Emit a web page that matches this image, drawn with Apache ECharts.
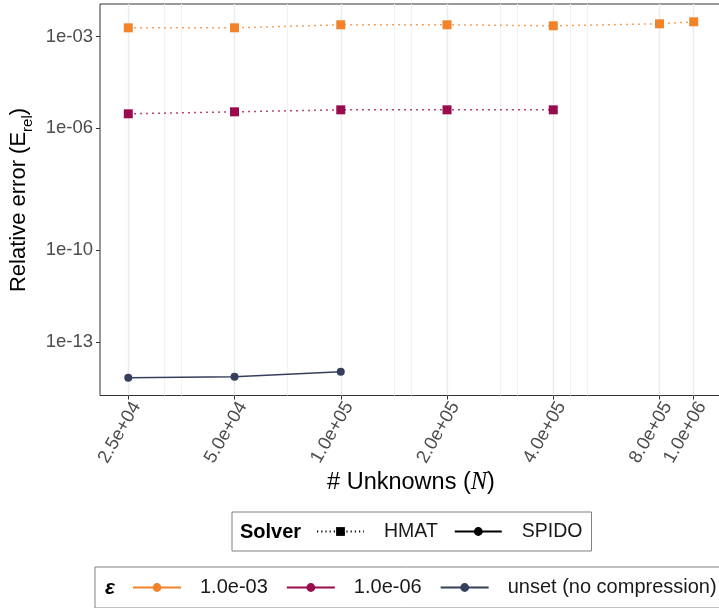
<!DOCTYPE html>
<html><head><meta charset="utf-8">
<script src="https://cdn.jsdelivr.net/npm/echarts@6/dist/echarts.min.js"></script>
<style>html,body{margin:0;padding:0;background:#fff}#c{width:719px;height:608px}</style>
</head><body><div id="c"></div>
<script>
// ---- data ----
const xTickValues = [25000, 50000, 100000, 200000, 400000, 800000, 1000000];
const xTickLabels = ['2.5e+04', '5.0e+04', '1.0e+05', '2.0e+05', '4.0e+05', '8.0e+05', '1.0e+06'];
const xMinorBreaks = [31623, 35355, 70711, 141421, 158489, 282843, 316228, 445600, 500000];
const yTickValues = [1e-13, 1e-10, 1e-6, 1e-3];
const yTickLabels = ['1e-13', '1e-10', '1e-06', '1e-03'];
const yMinorBreaks = [3.162e-15, 3.162e-12, 1e-8, 3.162e-5];

const epsNames = ['1.0e-03', '1.0e-06', 'unset (no compression)'];
const solverNames = ['HMAT', 'SPIDO'];

const nHmat1e3 = [25000, 50000, 100000, 200000, 400000, 800000, 1000000];
const errHmat1e3 = [1.95e-3, 1.95e-3, 2.45e-3, 2.45e-3, 2.27e-3, 2.64e-3, 3.07e-3];
const nHmat1e6 = [25000, 50000, 100000, 200000, 400000];
const errHmat1e6 = [2.96e-6, 3.44e-6, 4.0e-6, 4.0e-6, 4.0e-6];
const nSpido = [25000, 50000, 100000];
const errSpido = [6.64e-15, 7.16e-15, 1.045e-14];

// ---- styling ----
const FONT = '"Liberation Sans", Arial, Helvetica, sans-serif';
const colEps = ['#F1832A', '#9A0A4E', '#353F5B'];
const dotted = [1.5, 4.5];

function zip(xs, ys) { return xs.map((x, i) => [x, ys[i]]); }
function expandLog(vals) {
  const l = vals.map(Math.log10);
  const mn = Math.min(...l), mx = Math.max(...l), r = mx - mn;
  return [Math.pow(10, mn - 0.05 * r), Math.pow(10, mx + 0.05 * r)];
}
const xr = expandLog([...nHmat1e3, ...nHmat1e6, ...nSpido]);
const yr = expandLog([...errHmat1e3, ...errHmat1e6, ...errSpido]);

function lookup(vals, labels, v) {
  for (let i = 0; i < vals.length; i++) {
    if (Math.abs(Math.log10(v) - Math.log10(vals[i])) < 1e-6) return labels[i];
  }
  return '';
}
function mark(c) { return { color: c, borderWidth: 0, borderColor: c, borderType: 'solid', opacity: 1 }; }

const gridLines = [];
xTickValues.forEach(v => gridLines.push({ xAxis: v, lineStyle: { color: '#EBEBEB', width: 1.4, type: 'solid' } }));
xMinorBreaks.forEach(v => gridLines.push({ xAxis: v, lineStyle: { color: '#F2F2F2', width: 1, type: 'solid' } }));
yTickValues.forEach(v => gridLines.push({ yAxis: v, lineStyle: { color: '#EBEBEB', width: 1.4, type: 'solid' } }));
yMinorBreaks.forEach(v => gridLines.push({ yAxis: v, lineStyle: { color: '#F2F2F2', width: 1, type: 'solid' } }));

const chart = echarts.init(document.getElementById('c'), null, { renderer: 'canvas' });
chart.setOption({
  animation: false,
  backgroundColor: '#ffffff',
  grid: {
    left: 100, right: -3, top: 4, bottom: 212.5,
    show: true, borderColor: '#333333', borderWidth: 1, backgroundColor: 'transparent',
    containLabel: false, outerBoundsMode: 'none'
  },
  xAxis: {
    type: 'log', logBase: 10, min: xr[0], max: xr[1],
    axisLine: { show: false },
    splitLine: { show: false }, minorTick: { show: false }, minorSplitLine: { show: false },
    axisTick: { show: true, length: 4, lineStyle: { color: '#333333', width: 1 }, customValues: xTickValues },
    axisLabel: {
      customValues: xTickValues, rotate: 60, margin: 3, verticalAlign: 'top',
      fontSize: 18.5, color: '#4D4D4D', fontFamily: FONT,
      formatter: v => lookup(xTickValues, xTickLabels, v)
    }
  },
  yAxis: {
    type: 'log', logBase: 10, min: yr[0], max: yr[1],
    axisLine: { show: false },
    splitLine: { show: false }, minorTick: { show: false }, minorSplitLine: { show: false },
    axisTick: { show: true, length: 4, lineStyle: { color: '#333333', width: 1 }, customValues: yTickValues },
    axisLabel: {
      customValues: yTickValues, margin: 7,
      fontSize: 18.5, color: '#4D4D4D', fontFamily: FONT,
      formatter: v => lookup(yTickValues, yTickLabels, v)
    }
  },
  legend: [
    {
      data: solverNames, left: 232, top: 512, orient: 'horizontal',
      itemWidth: 47, itemHeight: 11, itemGap: 16,
      padding: [8.5, 9, 8.5, 84], borderColor: '#808080', borderWidth: 1, borderRadius: 0,
      selectedMode: false,
      textStyle: { fontSize: 19.5, color: '#1A1A1A', fontFamily: FONT, padding: [0, 0, 0, 15], lineHeight: 22 }
    },
    {
      data: epsNames, left: 95, top: 567, width: 720, orient: 'horizontal',
      itemWidth: 48, itemHeight: 11, itemGap: 18,
      padding: [9.5, 10, 9.5, 37], borderColor: '#808080', borderWidth: 1, borderRadius: 0,
      selectedMode: false,
      textStyle: { fontSize: 20, color: '#1A1A1A', fontFamily: FONT, padding: [0, 0, 0, 14], lineHeight: 22 }
    }
  ],
  graphic: [
    { type: 'text', x: 22, y: 200, rotation: Math.PI / 2, silent: true,
      style: { text: '{a|Relative error (E}{s|rel}{a|)}', align: 'center', verticalAlign: 'middle',
        rich: {
          a: { fontSize: 22, fontFamily: FONT, fill: '#000', lineHeight: 26, padding: [0, 0, 5, 0], verticalAlign: 'bottom' },
          s: { fontSize: 15, fontFamily: FONT, fill: '#000', lineHeight: 17, verticalAlign: 'bottom' }
        } } },
    { type: 'text', x: 411, y: 483, silent: true,
      style: { text: '{a|# Unknowns (}{n|N}{a|)}', align: 'center', verticalAlign: 'middle',
        rich: {
          a: { fontSize: 23.5, fontFamily: FONT, fill: '#000' },
          n: { fontSize: 24.5, fontFamily: '"Liberation Serif", "DejaVu Serif", serif', fontStyle: 'italic', fill: '#000' }
        } } },
    { type: 'text', x: 240, y: 532, silent: true,
      style: { text: 'Solver', fontSize: 20, fontWeight: 'bold', fontFamily: FONT, fill: '#000', align: 'left', verticalAlign: 'middle' } },
    { type: 'text', x: 105, y: 588, silent: true,
      style: { text: 'ε', fontSize: 21, fontWeight: 'bold', fontStyle: 'italic', fontFamily: FONT, fill: '#000', align: 'left', verticalAlign: 'middle' } }
  ],
  series: [
    // legend-only entries (drawn as in the reference legend keys)
    { name: 'HMAT', type: 'line', data: [], symbol: 'rect', symbolSize: 9,
      itemStyle: mark('#000'), lineStyle: { color: '#000', width: 1.2, type: [1.2, 3] } },
    { name: 'SPIDO', type: 'line', data: [], symbol: 'circle', symbolSize: 8,
      itemStyle: mark('#000'), lineStyle: { color: '#000', width: 1.5, type: 'solid' } },
    { name: epsNames[0], type: 'line', data: [], symbol: 'circle', symbolSize: 8,
      itemStyle: mark(colEps[0]), lineStyle: { color: colEps[0], width: 1.5, type: 'solid' } },
    { name: epsNames[1], type: 'line', data: [], symbol: 'circle', symbolSize: 8,
      itemStyle: mark(colEps[1]), lineStyle: { color: colEps[1], width: 1.5, type: 'solid' } },
    { name: epsNames[2], type: 'line', data: [], symbol: 'circle', symbolSize: 8,
      itemStyle: mark(colEps[2]), lineStyle: { color: colEps[2], width: 1.5, type: 'solid' } },
    // grid lines (drawn beneath the data)
    { name: 'grid', type: 'line', data: [], z: 0, zlevel: 0, silent: true,
      markLine: { z: 0, silent: true, symbol: ['none', 'none'], label: { show: false }, animation: false, data: gridLines } },
    // data
    { name: epsNames[0], type: 'line', z: 3, data: zip(nHmat1e3, errHmat1e3), symbol: 'rect', symbolSize: 9,
      itemStyle: mark(colEps[0]), lineStyle: { color: colEps[0], width: 1.5, type: dotted } },
    { name: epsNames[1], type: 'line', z: 3, data: zip(nHmat1e6, errHmat1e6), symbol: 'rect', symbolSize: 9,
      itemStyle: mark(colEps[1]), lineStyle: { color: colEps[1], width: 1.5, type: dotted } },
    { name: epsNames[2], type: 'line', z: 3, data: zip(nSpido, errSpido), symbol: 'circle', symbolSize: 8,
      itemStyle: mark(colEps[2]), lineStyle: { color: colEps[2], width: 1.5, type: 'solid' } }
  ]
});
</script></body></html>
